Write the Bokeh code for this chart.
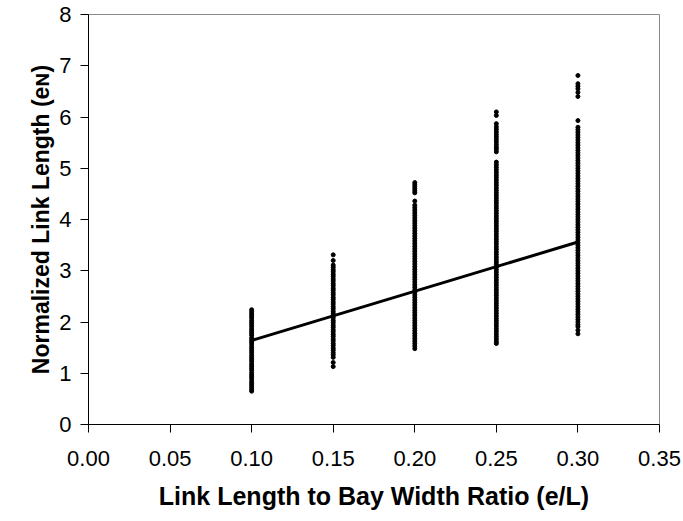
from bokeh.plotting import figure
from bokeh.models import Range1d, FixedTicker, NumeralTickFormatter, ColumnDataSource
from bokeh.embed import file_html
from bokeh.resources import INLINE

# Link length ratio groups (e/L)
ratios = [0.10, 0.15, 0.20, 0.25, 0.30]

# Normalized link length values observed for each ratio group
eN_010 = [2.24, 2.20, 2.16, 2.12, 2.08, 2.03, 1.99, 1.95, 1.91, 1.86, 1.82, 1.78,
          1.74, 1.69, 1.65, 1.61, 1.57, 1.52, 1.48, 1.44, 1.40, 1.35, 1.31, 1.27,
          1.23, 1.18, 1.14, 1.10, 1.06, 1.01, 0.97, 0.93, 0.89, 0.84, 0.80, 0.76,
          0.72, 0.68, 0.65]
eN_015 = [3.31, 3.20, 3.11, 3.07, 3.02, 2.98, 2.93, 2.89, 2.84, 2.80, 2.75, 2.71,
          2.66, 2.62, 2.57, 2.53, 2.48, 2.44, 2.39, 2.35, 2.30, 2.26, 2.21, 2.17,
          2.12, 2.08, 2.03, 1.99, 1.94, 1.90, 1.85, 1.81, 1.76, 1.72, 1.67, 1.63,
          1.58, 1.54, 1.49, 1.45, 1.40, 1.36, 1.31, 1.21, 1.13]
eN_020 = [4.72, 4.68, 4.64, 4.60, 4.56, 4.52, 4.36, 4.28, 4.23, 4.18, 4.13, 4.08,
          4.03, 3.98, 3.93, 3.88, 3.83, 3.78, 3.73, 3.68, 3.63, 3.58, 3.53, 3.48,
          3.43, 3.38, 3.33, 3.28, 3.23, 3.18, 3.13, 3.08, 3.03, 2.98, 2.93, 2.88,
          2.83, 2.78, 2.73, 2.68, 2.63, 2.58, 2.53, 2.48, 2.43, 2.38, 2.33, 2.28,
          2.23, 2.18, 2.13, 2.08, 2.03, 1.98, 1.93, 1.88, 1.83, 1.78, 1.73, 1.68,
          1.63, 1.58, 1.53, 1.48]
eN_025 = [6.10, 6.03, 5.87, 5.81, 5.76, 5.71, 5.66, 5.61, 5.56, 5.51, 5.46, 5.41,
          5.37, 5.32, 5.12, 5.07, 5.02, 4.97, 4.92, 4.87, 4.82, 4.77, 4.72, 4.67,
          4.62, 4.57, 4.52, 4.47, 4.42, 4.37, 4.32, 4.27, 4.22, 4.17, 4.12, 4.07,
          4.02, 3.97, 3.92, 3.87, 3.82, 3.77, 3.72, 3.67, 3.62, 3.57, 3.52, 3.47,
          3.42, 3.37, 3.32, 3.27, 3.22, 3.17, 3.12, 3.07, 3.02, 2.97, 2.92, 2.87,
          2.82, 2.77, 2.72, 2.67, 2.62, 2.57, 2.52, 2.47, 2.42, 2.37, 2.32, 2.27,
          2.22, 2.17, 2.12, 2.07, 2.02, 1.97, 1.92, 1.87, 1.82, 1.77, 1.72, 1.67,
          1.62, 1.58]
eN_030 = [6.81, 6.65, 6.60, 6.55, 6.48, 6.40, 5.93, 5.80, 5.75, 5.70, 5.65, 5.60,
          5.55, 5.50, 5.45, 5.40, 5.35, 5.30, 5.25, 5.20, 5.15, 5.10, 5.05, 5.00,
          4.95, 4.90, 4.85, 4.80, 4.75, 4.70, 4.65, 4.60, 4.55, 4.50, 4.45, 4.40,
          4.35, 4.30, 4.25, 4.20, 4.15, 4.10, 4.05, 4.00, 3.95, 3.90, 3.85, 3.80,
          3.75, 3.70, 3.65, 3.60, 3.55, 3.50, 3.45, 3.40, 3.35, 3.30, 3.25, 3.20,
          3.15, 3.10, 3.05, 3.00, 2.95, 2.90, 2.85, 2.80, 2.75, 2.70, 2.65, 2.60,
          2.55, 2.50, 2.45, 2.40, 2.35, 2.30, 2.25, 2.20, 2.15, 2.10, 2.05, 2.00,
          1.95, 1.91, 1.84, 1.77]

# Linear trend through the group means
trend_x = [0.10, 0.30]
trend_y = [1.64, 3.56]

x_ticks = [0.00, 0.05, 0.10, 0.15, 0.20, 0.25, 0.30, 0.35]
y_ticks = [0, 1, 2, 3, 4, 5, 6, 7, 8]

groups = [eN_010, eN_015, eN_020, eN_025, eN_030]
xs, ys = [], []
for r, vals in zip(ratios, groups):
    xs.extend([r] * len(vals))
    ys.extend(vals)
src = ColumnDataSource(data=dict(x=xs, y=ys))

FONT = "Liberation Sans"

p = figure(width=683, height=521, output_backend="svg", toolbar_location=None,
           x_range=Range1d(0, 0.35), y_range=Range1d(0, 8),
           min_border_left=88, min_border_right=24,
           min_border_top=14, min_border_bottom=97)

p.scatter("x", "y", source=src, marker="circle", size=4,
          fill_color="black", line_color="black")
p.line(trend_x, trend_y, line_color="black", line_width=3)

p.xgrid.visible = False
p.ygrid.visible = False
p.outline_line_color = "#8a8a8a"
p.outline_line_width = 1
p.background_fill_color = "white"
p.border_fill_color = "white"

p.xaxis.ticker = FixedTicker(ticks=x_ticks)
p.yaxis.ticker = FixedTicker(ticks=y_ticks)
p.xaxis.formatter = NumeralTickFormatter(format="0.00")

for ax in (p.xaxis, p.yaxis):
    ax.axis_line_color = "black"
    ax.axis_line_width = 1
    ax.major_tick_line_color = "black"
    ax.major_tick_in = 0
    ax.major_tick_out = 8
    ax.minor_tick_line_color = None
    ax.major_label_text_font = FONT
    ax.major_label_text_font_size = "22px"
    ax.major_label_text_color = "black"
    ax.axis_label_text_font = FONT
    ax.axis_label_text_font_style = "bold"
    ax.axis_label_text_color = "black"

p.xaxis.axis_label = "Link Length to Bay Width Ratio (e/L)"
p.yaxis.axis_label = "Normalized Link Length (eɴ)"
p.xaxis.axis_label_text_font_size = "25px"
p.yaxis.axis_label_text_font_size = "23px"
p.xaxis.major_label_standoff = 18
p.xaxis.axis_label_standoff = 13
p.yaxis.major_label_standoff = 9
p.yaxis.axis_label_standoff = 2

open("out.html", "w").write(file_html(p, INLINE))
